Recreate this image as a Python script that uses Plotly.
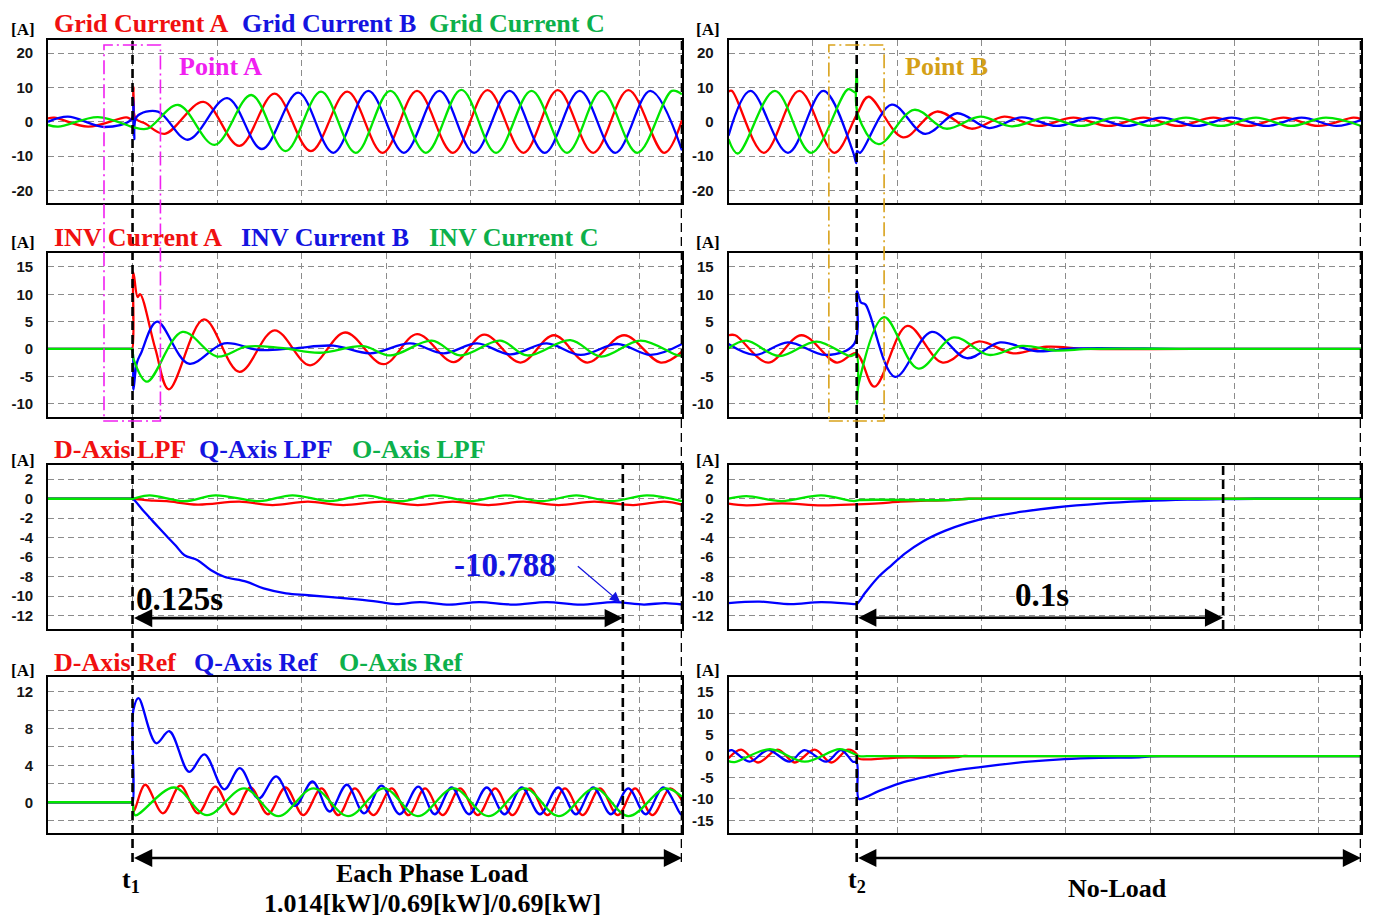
import plotly.graph_objects as go

W, H = 1373, 917

# ===================== DATA  (time in ms, current in A) =====================
T1 = 20.0          # load applied (left record)
T2 = 30.4          # load removed (right record)
T_SETTLE_1 = 136.0 # end of 0.125 s marker
T_SETTLE_2 = 117.3 # end of 0.1 s marker

# --- Row 1 left: grid currents
GRID_L_A_T = [0, 1.5, 9.5, 18.5, 19.9, 20.2, 20.7, 23, 27.6, 36.8, 45.3, 53.6, 62.2, 70.8, 79.2, 87.3, 95.8, 104, 112.5, 120.6, 129, 137.3, 145.8, 150]
GRID_L_A_V = [1.0, 1.2, -1.4, 1.3, 0.8, 10.0, 1.0, -0.5, -3.5, 5.8, -7.0, 8.2, -8.5, 8.8, -9.0, 9.0, -9.0, 9.2, -9.0, 9.2, -9.0, 9.2, -9.0, 0.5]
GRID_L_B_T = [0, 4.7, 13.4, 19.8, 20.1, 20.4, 21, 26, 33.1, 42.4, 50.6, 59.2, 67.5, 75.8, 84.2, 92.6, 100.8, 109.2, 117.5, 125.8, 134.2, 142.5, 150]
GRID_L_B_V = [0, 1.5, -1.5, 0.8, 7.0, -5.0, 1.5, 3.0, -5.2, 6.9, -7.9, 8.5, -9.0, 9.0, -9.0, 9.0, -9.0, 9.0, -9.0, 9.0, -9.0, 9.0, -8.3]
GRID_L_C_T = [0, 2.4, 11.8, 19.7, 20.3, 23.5, 30.8, 39.4, 48.1, 56.2, 64.6, 72.8, 81, 89.4, 97.8, 106, 114.4, 122.8, 131, 139.4, 147.6, 150]
GRID_L_C_V = [-0.9, -1.4, 1.4, -1.4, -1.6, -2.0, 4.9, -6.7, 7.8, -8.5, 8.8, -9.0, 9.0, -9.0, 9.3, -9.0, 9.0, -9.0, 9.0, -9.0, 9.0, 8.0]

# --- Row 1 right: grid currents
GRID_R_A_T = [0, 0.8, 8.4, 16.8, 25.1, 30.4, 33.2, 41.4, 49.4, 57.6, 65.4, 73.5, 81.8, 90.1, 98.4, 106.7, 115, 123.3, 131.6, 139.9, 148.2, 150]
GRID_R_A_V = [8.8, 9.0, -9.0, 9.0, -9.0, 2.0, 7.3, -4.5, 3.0, -2.0, 1.5, -1.2, 1.2, -1.2, 1.2, -1.2, 1.2, -1.2, 1.2, -1.2, 1.2, 0.8]
GRID_R_B_T = [0, 5.2, 14.1, 22.5, 29.6, 30.3, 30.5, 31.2, 38.7, 46.6, 54.2, 61.8, 69.5, 77.8, 86.1, 94.4, 102.7, 111, 119.3, 127.6, 135.9, 144.2, 150]
GRID_R_B_V = [-4.0, 9.0, -9.0, 9.0, -9.0, -12.0, -8.5, -9.0, 5.0, -3.5, 2.5, -1.8, 1.3, -1.2, 1.2, -1.2, 1.2, -1.2, 1.2, -1.2, 1.2, -1.2, 0.5]
GRID_R_C_T = [0, 2.2, 11, 19.6, 28.4, 30.2, 30.4, 30.7, 35.6, 44, 51.6, 59.7, 67.2, 75.3, 83.6, 91.9, 100.2, 108.5, 116.8, 125.1, 133.4, 141.7, 150]
GRID_R_C_V = [-5.0, -9.2, 9.0, -9.0, 9.5, 8.5, 15.0, 2.0, -6.5, 3.5, -2.0, 1.5, -1.3, 1.2, -1.2, 1.2, -1.2, 1.2, -1.2, 1.2, -1.2, 1.2, -1.2]

# --- Row 2 left: inverter currents
INV_L_A_T = [0, 19.5, 19.9, 20.2, 21.2, 21.8, 25.4, 28.6, 36.9, 45.3, 53.6, 62, 70.3, 79.4, 87.3, 96, 103.2, 111.8, 119.7, 127.6, 136.3, 145, 150]
INV_L_A_V = [0, 0, 0, 14.0, 9.5, 10.0, 0, -7.4, 5.4, -4.2, 3.4, -3.0, 3.0, -2.8, 2.7, -2.4, 2.6, -2.5, 2.5, -2.5, 2.5, -2.5, -0.5]
INV_L_B_T = [0, 19.5, 19.9, 20.2, 21, 22, 25.8, 33.3, 41.7, 50, 58, 67.5, 76.2, 85.7, 93.6, 101.5, 109.4, 118, 126, 134.7, 142.6, 150]
INV_L_B_V = [0, 0, 0, -7.5, -2.6, -0.8, 5.0, -2.7, 1.0, -0.2, 0.1, 0.6, -0.8, 1.0, -0.8, 1.0, -1.0, 1.0, -1.1, 0.9, -1.1, 0.9]
INV_L_C_T = [0, 19.5, 19.9, 20.3, 23.4, 31.8, 40, 46.9, 55, 64.3, 74.6, 81, 90.8, 97.5, 107, 113.4, 123.6, 130.8, 140.2, 149, 150]
INV_L_C_V = [0, 0, 0, -2.0, -6.0, 3.1, -1.4, 0.4, 0.2, -0.7, 0.5, -1.2, 1.5, -1.2, 1.5, -1.2, 1.6, -1.4, 1.5, -1.2, -1.2]

# --- Row 2 right: inverter currents
INV_R_A_T = [0, 1.6, 9.4, 17.3, 25.7, 30.3, 34.6, 42.4, 50.8, 59.2, 67.5, 75.4, 85, 110, 150]
INV_R_A_V = [2.5, 2.5, -2.5, 2.5, -2.5, -0.8, -6.9, 4.2, -2.5, 1.35, -0.8, 0.4, 0, 0, 0]
INV_R_B_T = [0, 6.3, 14.1, 23, 29.8, 30.5, 31.4, 32.5, 39.5, 48.2, 56.5, 64.4, 72.8, 82, 110, 150]
INV_R_B_V = [0.9, -1.1, 1.2, -1.1, 0.9, 10.5, 8.5, 8.1, -5.1, 3.1, -1.7, 1.2, -0.4, 0.1, 0, 0]
INV_R_C_T = [0, 4.2, 12, 20.9, 28.8, 30.3, 30.5, 30.9, 36.9, 45, 53.4, 61.8, 69.6, 77.5, 86, 110, 150]
INV_R_C_V = [0.1, 1.5, -1.3, 1.35, -1.3, -1.0, -10.0, -6.3, 5.8, -3.6, 2.1, -1.1, 0.55, -0.3, 0, 0, 0]

# --- Row 3 left: dq0 LPF
LPF_L_D_T = [0, 19.4, 20, 25, 28.1, 35.4, 45.3, 53.1, 61.5, 69.8, 79.2, 87.5, 95.8, 104.2, 112.5, 120.8, 129.2, 138.5, 145.8, 150]
LPF_L_D_V = [0, 0, 0, -0.2, -0.25, -0.6, -0.3, -0.65, -0.3, -0.65, -0.3, -0.65, -0.3, -0.65, -0.3, -0.65, -0.3, -0.65, -0.3, -0.6]
LPF_L_Q_T = [0, 19.4, 20, 22.5, 25, 28, 30.2, 32.3, 35.4, 38.5, 41.7, 46.9, 51, 56.3, 61.5, 69.8, 77, 82.3, 88, 95, 102, 110, 118, 126, 134, 141, 146, 150]
LPF_L_Q_V = [0, 0, 0, -1.2, -2.4, -3.8, -4.8, -5.8, -6.3, -7.3, -8.0, -8.5, -9.2, -9.7, -9.9, -10.2, -10.5, -10.8, -10.6, -10.85, -10.6, -10.85, -10.6, -10.85, -10.6, -10.85, -10.7, -10.85]
LPF_L_O_T = [0, 19.4, 20, 24, 32.3, 39.6, 50, 57.8, 66.7, 75, 83.3, 91.1, 100, 108.3, 116.7, 125, 133.3, 141.7, 150]
LPF_L_O_V = [0, 0, 0, 0.35, -0.25, 0.35, -0.25, 0.35, -0.25, 0.35, -0.25, 0.35, -0.25, 0.35, -0.25, 0.35, -0.25, 0.35, -0.25]

# --- Row 3 right: dq0 LPF
LPF_R_D_T = [0, 4.2, 12.6, 22, 30.4, 35.6, 40.8, 47.1, 52.4, 57, 62, 75, 150]
LPF_R_D_V = [-0.5, -0.68, -0.48, -0.68, -0.58, -0.48, -0.3, -0.2, -0.14, 0, 0, 0, 0]
LPF_R_Q_T = [0, 7.3, 14.7, 22, 29.8, 30.4, 32.5, 35.6, 38.7, 41.9, 46, 51.3, 56.5, 61.8, 70.2, 77.5, 88, 98.4, 108.9, 117.3, 125, 150]
LPF_R_Q_V = [-10.7, -10.55, -10.8, -10.6, -10.8, -10.8, -9.6, -8.0, -6.8, -5.6, -4.4, -3.3, -2.5, -1.9, -1.3, -0.9, -0.5, -0.25, -0.1, -0.05, 0, 0]
LPF_R_O_T = [0, 4.2, 12.6, 22, 29.8, 31, 52.4, 57, 62, 150]
LPF_R_O_V = [0, 0.27, -0.24, 0.34, -0.24, -0.14, -0.14, 0, 0, 0]

# --- Row 4 left: dq0 references
REF_L_D_T = [0, 19.6, 20, 20.3, 23, 27.2, 31.3, 35.5, 39.6, 43.8, 47.9, 52, 56.2, 60.4, 64.7, 68.7, 72.6, 77, 81.3, 85.3, 89.2, 93.4, 97.5, 101.7, 105.8, 109.9, 114, 118.2, 122.3, 126.5, 130.6, 134.8, 138.9, 143, 147.2, 150]
REF_L_D_V = [0, 0, 0, -1.0, 1.9, -1.2, 1.8, -1.2, 1.7, -1.3, 1.6, -1.3, 1.6, -1.4, 1.5, -1.4, 1.5, -1.4, 1.5, -1.4, 1.5, -1.4, 1.5, -1.4, 1.5, -1.4, 1.5, -1.4, 1.5, -1.4, 1.5, -1.4, 1.5, -1.4, 1.5, 0.2]
REF_L_Q_T = [0, 19.6, 20, 20.2, 21.4, 25.6, 28.7, 33.4, 37, 41.7, 45.4, 49.8, 54, 58.4, 62.6, 66.6, 70.7, 74.8, 78.9, 83.2, 87.6, 91.5, 95.5, 99.6, 103.8, 108, 112.1, 116.4, 120.7, 124.9, 129, 133.2, 137.3, 141.4, 145.6, 149.7, 150]
REF_L_Q_V = [0, 0, 0, 10.0, 11.3, 6.4, 7.7, 3.3, 5.2, 1.4, 3.7, 0.4, 2.8, -0.4, 2.25, -1.0, 1.9, -1.2, 1.8, -1.3, 1.7, -1.3, 1.6, -1.3, 1.6, -1.3, 1.6, -1.3, 1.6, -1.3, 1.6, -1.3, 1.5, -1.3, 1.6, -1.3, -1.3]
REF_L_O_T = [0, 19.6, 20, 20.6, 29.8, 37.6, 46.4, 54.5, 62.8, 71, 79.5, 87.5, 96, 104.2, 112.8, 120.8, 129.4, 137.3, 146, 150]
REF_L_O_V = [0, 0, 0, -1.4, 1.6, -1.4, 1.5, -1.5, 1.5, -1.5, 1.5, -1.5, 1.5, -1.5, 1.5, -1.5, 1.5, -1.5, 1.5, 0.6]

# --- Row 4 right: dq0 references
REF_R_D_T = [0, 3, 7, 11.7, 15.7, 20.4, 24.4, 28.3, 30.4, 30.8, 37, 40, 54, 55.5, 57, 150]
REF_R_D_V = [-0.5, 1.5, -1.5, 1.5, -1.5, 1.5, -1.5, 1.5, 0.5, -0.55, -0.55, -0.35, -0.25, 0, 0, 0]
REF_R_Q_T = [0, 0.8, 5, 9.4, 14.5, 18, 23.2, 26.7, 29.5, 30.4, 30.9, 32.5, 35.6, 40.8, 46.1, 51.3, 59.7, 71.2, 79.6, 88, 97.4, 100, 105, 150]
REF_R_Q_V = [1.2, 1.4, -1.3, 1.4, -1.3, 1.4, -1.3, 1.4, -1.3, -1.5, -10.0, -9.6, -8.2, -6.3, -5.0, -3.8, -2.6, -1.3, -0.7, -0.4, -0.3, -0.05, 0, 0]
REF_R_O_T = [0, 1.5, 9.8, 18.1, 26.4, 30.4, 31, 35, 150]
REF_R_O_V = [-1.2, -1.4, 1.6, -1.3, 1.6, 0.2, 0, 0, 0]

# Axis ticks
TICKS_GRID = [-20, -10, 0, 10, 20]
TICKS_INV = [-10, -5, 0, 5, 10, 15]
TICKS_LPF = [-12, -10, -8, -6, -4, -2, 0, 2]
TICKS_REF_L = [-2, 0, 2, 4, 6, 8, 10, 12]
TICKS_REF_L_TEXT = ['', '0', '', '4', '', '8', '', '12']
TICKS_REF_R = [-15, -10, -5, 0, 5, 10, 15]

SERIES_NAMES = [
    ['Grid Current A', 'Grid Current B', 'Grid Current C'],
    ['INV Current A', 'INV Current B', 'INV Current C'],
    ['D-Axis LPF', 'Q-Axis LPF', 'O-Axis LPF'],
    ['D-Axis Ref', 'Q-Axis Ref', 'O-Axis Ref'],
]
ANNOT_VALUE = '-10.788'

# ===================== STYLE / LAYOUT =====================
RED, BLUE, GREEN = '#FF0000', '#0000FF', '#00E600'
RED_T, BLUE_T, GREEN_T = '#F01010', '#1414E0', '#0DB04B'
SERIF = 'Liberation Serif, Times New Roman, serif'
SANS = 'Liberation Sans, Arial, sans-serif'

COLS_PX = [(48, 682), (728.5, 1361)]
ROWS_PX = [(40, 203), (252.7, 416.7), (465, 629), (677.3, 832.7)]


def px_x(p):
    return p / W


def px_y(p):
    return 1 - p / H


def lab(v):
    return str(v)


PANELS = [
    dict(row=0, col=0, yr=[-23.6, 23.8], tv=TICKS_GRID, tt=[lab(v) for v in TICKS_GRID],
         tr=[(GRID_L_A_T, GRID_L_A_V, RED), (GRID_L_B_T, GRID_L_B_V, BLUE), (GRID_L_C_T, GRID_L_C_V, GREEN)]),
    dict(row=0, col=1, yr=[-23.6, 23.8], tv=TICKS_GRID, tt=[lab(v) for v in TICKS_GRID],
         tr=[(GRID_R_A_T, GRID_R_A_V, RED), (GRID_R_B_T, GRID_R_B_V, BLUE), (GRID_R_C_T, GRID_R_C_V, GREEN)]),
    dict(row=1, col=0, yr=[-12.4, 17.6], tv=TICKS_INV, tt=[lab(v) for v in TICKS_INV],
         tr=[(INV_L_A_T, INV_L_A_V, RED), (INV_L_B_T, INV_L_B_V, BLUE), (INV_L_C_T, INV_L_C_V, GREEN)]),
    dict(row=1, col=1, yr=[-12.4, 17.6], tv=TICKS_INV, tt=[lab(v) for v in TICKS_INV],
         tr=[(INV_R_A_T, INV_R_A_V, RED), (INV_R_B_T, INV_R_B_V, BLUE), (INV_R_C_T, INV_R_C_V, GREEN)]),
    dict(row=2, col=0, yr=[-13.36, 3.46], tv=TICKS_LPF, tt=[lab(v) for v in TICKS_LPF],
         tr=[(LPF_L_D_T, LPF_L_D_V, RED), (LPF_L_Q_T, LPF_L_Q_V, BLUE), (LPF_L_O_T, LPF_L_O_V, GREEN)]),
    dict(row=2, col=1, yr=[-13.36, 3.46], tv=TICKS_LPF, tt=[lab(v) for v in TICKS_LPF],
         tr=[(LPF_R_D_T, LPF_R_D_V, RED), (LPF_R_Q_T, LPF_R_Q_V, BLUE), (LPF_R_O_T, LPF_R_O_V, GREEN)]),
    dict(row=3, col=0, yr=[-3.3, 13.55], tv=TICKS_REF_L, tt=TICKS_REF_L_TEXT,
         tr=[(REF_L_D_T, REF_L_D_V, RED), (REF_L_Q_T, REF_L_Q_V, BLUE), (REF_L_O_T, REF_L_O_V, GREEN)]),
    dict(row=3, col=1, yr=[-17.9, 18.4], tv=TICKS_REF_R, tt=[lab(v) for v in TICKS_REF_R],
         tr=[(REF_R_D_T, REF_R_D_V, RED), (REF_R_Q_T, REF_R_Q_V, BLUE), (REF_R_O_T, REF_R_O_V, GREEN)]),
]

fig = go.Figure()
layout = {}
for i, p in enumerate(PANELS):
    n = i + 1
    sfx = '' if n == 1 else str(n)
    xa, ya = 'x' + sfx, 'y' + sfx
    c0, c1 = COLS_PX[p['col']]
    r0, r1 = ROWS_PX[p['row']]
    for (t, v, color) in p['tr']:
        assert len(t) == len(v), (n, color, len(t), len(v))
        fig.add_trace(go.Scatter(x=t, y=v, mode='lines', xaxis=xa, yaxis=ya,
                                 line=dict(color=color, width=2.3, shape='spline', smoothing=1),
                                 showlegend=False, hoverinfo='skip'))
    common = dict(showline=True, mirror=True, linecolor='black', linewidth=1.6,
                  showgrid=True, gridcolor='#8c8c8c', gridwidth=1, griddash='6px,4px',
                  zeroline=False, automargin=False, fixedrange=True)
    layout['xaxis' + sfx] = dict(domain=[px_x(c0), px_x(c1)], range=[0, 150], anchor=ya,
                                 tick0=0, dtick=20, showticklabels=False, ticks='', **common)
    layout['yaxis' + sfx] = dict(domain=[px_y(r1), px_y(r0)], range=p['yr'], anchor=xa,
                                 tickmode='array', tickvals=p['tv'], ticktext=p['tt'], ticks='',
                                 ticklabelstandoff=10,
                                 tickfont=dict(family=SANS, size=15, color='#151515', weight='bold'),
                                 **common)

shapes = []
annotations = []

# vertical dashed event lines
DASH = '9px,5px'
for xref, xv, ytop, ybot in [('x', T1, 40, 862), ('x', 150, 40, 862), ('x2', T2, 40, 862), ('x2', 150, 40, 862),
                             ('x5', T_SETTLE_1, 465, 833), ('x6', T_SETTLE_2, 465, 629)]:
    shapes.append(dict(type='line', xref=xref, yref='paper', x0=xv, x1=xv, y0=px_y(ybot), y1=px_y(ytop),
                       line=dict(color='black', width=2.6, dash=DASH), layer='above'))

# zoom boxes
shapes.append(dict(type='rect', xref='x', yref='paper', x0=13.25, x1=26.6, y0=px_y(421), y1=px_y(45),
                   line=dict(color='#F020F0', width=1.6, dash='14px,4px,2px,4px'), fillcolor='rgba(0,0,0,0)'))
shapes.append(dict(type='rect', xref='x2', yref='paper', x0=23.8, x1=36.9, y0=px_y(421), y1=px_y(45),
                   line=dict(color='#D9A21B', width=1.6, dash='14px,4px,2px,4px'), fillcolor='rgba(0,0,0,0)'))

annotations.append(dict(xref='x', yref='y', x=30.5, y=16.2, text='<b>Point A</b>', showarrow=False,
                        xanchor='left', yanchor='middle', font=dict(family=SERIF, size=26, color='#F020F0')))
annotations.append(dict(xref='x2', yref='y2', x=41.4, y=16.2, text='<b>Point B</b>', showarrow=False,
                        xanchor='left', yanchor='middle', font=dict(family=SERIF, size=26, color='#D4A017')))

# series titles
TITLE_Y = [24, 237, 449, 662]
TITLE_X = [[53, 241, 428], [53, 240, 428], [53, 198, 351], [53, 193, 338]]
for r in range(4):
    for k, col in enumerate([RED_T, BLUE_T, GREEN_T]):
        annotations.append(dict(xref='paper', yref='paper', x=px_x(TITLE_X[r][k]), y=px_y(TITLE_Y[r]),
                                text='<b>%s</b>' % SERIES_NAMES[r][k], showarrow=False,
                                xanchor='left', yanchor='middle', borderpad=0,
                                font=dict(family=SERIF, size=26, color=col)))

# unit labels
for yc in [29, 243, 461, 670]:
    for xc in [23, 708]:
        annotations.append(dict(xref='paper', yref='paper', x=px_x(xc), y=px_y(yc), text='<b>[A]</b>',
                                showarrow=False, xanchor='center', yanchor='middle',
                                font=dict(family=SERIF, size=17, color='black')))

# time-span arrows
ARW = dict(showarrow=True, arrowside='end+start', arrowhead=2, arrowsize=1.4, arrowwidth=2.6,
           arrowcolor='black', text='')
annotations.append(dict(xref='x5', yref='y5', x=T_SETTLE_1, y=-12.24, axref='x5', ayref='y5',
                        ax=T1, ay=-12.24, **ARW))
annotations.append(dict(xref='x6', yref='y6', x=T_SETTLE_2, y=-12.2, axref='x6', ayref='y6',
                        ax=T2, ay=-12.2, **ARW))
annotations.append(dict(xref='x', yref='paper', x=150, y=px_y(858), axref='x', ayref='pixel',
                        ax=T1, ay=0, **ARW))
annotations.append(dict(xref='x2', yref='paper', x=150, y=px_y(858), axref='x2', ayref='pixel',
                        ax=T2, ay=0, **ARW))

annotations.append(dict(xref='x5', yref='y5', x=T1 + 0.3, y=-10.3, text='<b>0.125s</b>', showarrow=False,
                        xanchor='left', yanchor='middle', font=dict(family=SERIF, size=33, color='black')))
annotations.append(dict(xref='x6', yref='y6', x=74.3, y=-9.9, text='<b>0.1s</b>', showarrow=False,
                        xanchor='center', yanchor='middle', font=dict(family=SERIF, size=33, color='black')))
annotations.append(dict(xref='x5', yref='y5', x=108.1, y=-6.8, text='<b>%s</b>' % ANNOT_VALUE, showarrow=False,
                        xanchor='center', yanchor='middle', font=dict(family=SERIF, size=33, color='#1414E0')))
annotations.append(dict(xref='x5', yref='y5', x=135.4, y=-10.63, axref='x5', ayref='y5', ax=125.0, ay=-6.8,
                        text='', showarrow=True, arrowhead=2, arrowsize=1.6, arrowwidth=1.3,
                        arrowcolor='#1414E0'))

# bottom captions
BIG = dict(family=SERIF, size=26, color='black')
annotations.append(dict(xref='x', yref='paper', x=T1 - 0.4, y=px_y(881), text='<b>t<sub>1</sub></b>',
                        showarrow=False, xanchor='center', yanchor='middle', font=BIG))
annotations.append(dict(xref='x2', yref='paper', x=T2, y=px_y(881), text='<b>t<sub>2</sub></b>',
                        showarrow=False, xanchor='center', yanchor='middle', font=BIG))
annotations.append(dict(xref='x', yref='paper', x=91, y=px_y(873), text='<b>Each Phase Load</b>',
                        showarrow=False, xanchor='center', yanchor='middle', font=BIG))
annotations.append(dict(xref='x', yref='paper', x=91, y=px_y(903),
                        text='<b>1.014[kW]/0.69[kW]/0.69[kW]</b>',
                        showarrow=False, xanchor='center', yanchor='middle', font=BIG))
annotations.append(dict(xref='x2', yref='paper', x=92.3, y=px_y(888), text='<b>No-Load</b>',
                        showarrow=False, xanchor='center', yanchor='middle', font=BIG))

fig.update_layout(width=W, height=H, margin=dict(l=0, r=0, t=0, b=0),
                  paper_bgcolor='white', plot_bgcolor='white',
                  shapes=shapes, annotations=annotations, showlegend=False, **layout)

fig.write_html('out.html', config={'displayModeBar': False},
               post_script="document.body.style.margin='0px';document.body.style.padding='0px';"
                           "document.body.style.overflow='hidden';")
